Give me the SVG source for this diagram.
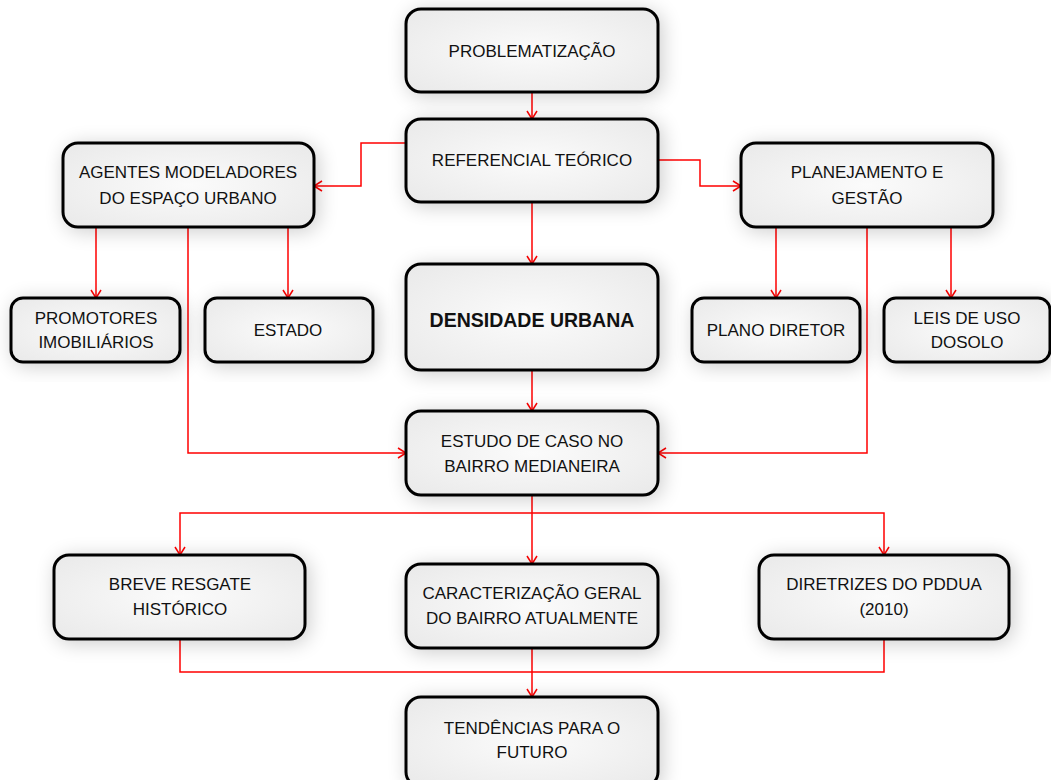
<svg xmlns="http://www.w3.org/2000/svg" width="1051" height="780" viewBox="0 0 1051 780">
<style>
.box{fill:url(#g);stroke:#000;stroke-width:3;filter:url(#sh)}
.t{font-family:"Liberation Sans",Arial,sans-serif;font-size:17px;fill:#111;text-anchor:middle}
.b{font-weight:bold;font-size:19.5px}
.c{fill:none;stroke:#f00;stroke-width:1.5;marker-end:url(#a)}
.l{fill:none;stroke:#f00;stroke-width:1.5}
</style>
<defs>
<radialGradient id="g" cx="0.5" cy="0.5" r="0.7">
<stop offset="0" stop-color="#fbfbfb"/>
<stop offset="1" stop-color="#e9e9e9"/>
</radialGradient>
<filter id="sh" x="-20%" y="-30%" width="140%" height="160%">
<feGaussianBlur in="SourceAlpha" stdDeviation="10"/>
<feOffset dx="3" dy="3" result="b"/>
<feComponentTransfer><feFuncA type="linear" slope="0.2"/></feComponentTransfer>
<feMerge><feMergeNode/><feMergeNode in="SourceGraphic"/></feMerge>
</filter>
<marker id="a" markerWidth="10" markerHeight="12" refX="9" refY="6" orient="auto" markerUnits="userSpaceOnUse">
<path d="M1,1 L9,6 L1,11" fill="none" stroke="#f00" stroke-width="1.5"/>
</marker>
</defs>
<rect width="1051" height="780" fill="#fff"/>
<g id="connectors">
<path class="c" d="M532,92 V119"/>
<path class="c" d="M406,143 H361 V186 H314"/>
<path class="c" d="M658,160 H700 V186 H741"/>
<path class="c" d="M532,202 V264"/>
<path class="c" d="M96,227 V298"/>
<path class="c" d="M288,227 V298"/>
<path class="c" d="M188,227 V453 H406"/>
<path class="c" d="M776,227 V298"/>
<path class="c" d="M951,227 V298"/>
<path class="c" d="M867,227 V453 H658"/>
<path class="c" d="M532,370 V411"/>
<path class="c" d="M532,494 V564"/>
<path class="c" d="M532,513 H180 V555"/>
<path class="c" d="M532,513 H884 V555"/>
<path class="l" d="M180,638 V672 H884 V638"/>
<path class="c" d="M532,648 V697"/>
</g>
<g id="n1"><rect class="box" x="406" y="9" width="252" height="83" rx="15"/><text class="t" x="532" y="57">PROBLEMATIZAÇÃO</text></g>
<g id="n2"><rect class="box" x="406" y="119" width="252" height="83" rx="15"/><text class="t" x="532" y="166">REFERENCIAL TEÓRICO</text></g>
<g id="n3"><rect class="box" x="63" y="143" width="251" height="84" rx="15"/><text class="t" x="188" y="178">AGENTES MODELADORES</text><text class="t" x="188" y="204">DO ESPAÇO URBANO</text></g>
<g id="n4"><rect class="box" x="741" y="143" width="252" height="84" rx="15"/><text class="t" x="867" y="178">PLANEJAMENTO E</text><text class="t" x="867" y="204">GESTÃO</text></g>
<g id="n5"><rect class="box" x="11" y="298" width="169" height="64" rx="12"/><text class="t" x="96" y="324">PROMOTORES</text><text class="t" x="96" y="348">IMOBILIÁRIOS</text></g>
<g id="n6"><rect class="box" x="205" y="298" width="168" height="64" rx="12"/><text class="t" x="288" y="336">ESTADO</text></g>
<g id="n7"><rect class="box" x="406" y="264" width="252" height="106" rx="15"/><text class="t b" x="532" y="327">DENSIDADE URBANA</text></g>
<g id="n8"><rect class="box" x="692" y="298" width="168" height="64" rx="12"/><text class="t" x="776" y="336">PLANO DIRETOR</text></g>
<g id="n9"><rect class="box" x="884" y="298" width="166" height="64" rx="12"/><text class="t" x="967" y="324">LEIS DE USO</text><text class="t" x="967" y="348">DOSOLO</text></g>
<g id="n10"><rect class="box" x="406" y="411" width="252" height="84" rx="15"/><text class="t" x="532" y="447">ESTUDO DE CASO NO</text><text class="t" x="532" y="472">BAIRRO MEDIANEIRA</text></g>
<g id="n11"><rect class="box" x="54" y="555" width="251" height="84" rx="15"/><text class="t" x="180" y="590">BREVE RESGATE</text><text class="t" x="180" y="615">HISTÓRICO</text></g>
<g id="n12"><rect class="box" x="406" y="564" width="252" height="84" rx="15"/><text class="t" x="532" y="599">CARACTERIZAÇÃO GERAL</text><text class="t" x="532" y="624">DO BAIRRO ATUALMENTE</text></g>
<g id="n13"><rect class="box" x="759" y="555" width="250" height="84" rx="15"/><text class="t" x="884" y="590">DIRETRIZES DO PDDUA</text><text class="t" x="884" y="615">(2010)</text></g>
<g id="n14"><rect class="box" x="406" y="697" width="252" height="90" rx="15"/><text class="t" x="532" y="734">TENDÊNCIAS PARA O</text><text class="t" x="532" y="758">FUTURO</text></g>
</svg>
